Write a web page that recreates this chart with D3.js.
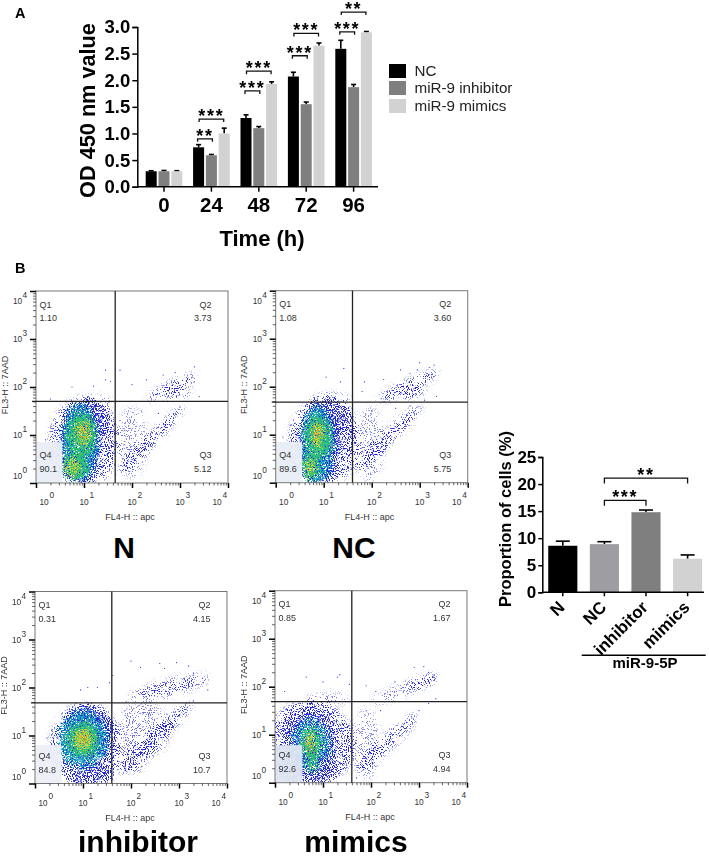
<!DOCTYPE html>
<html><head><meta charset="utf-8">
<script src="https://cdn.jsdelivr.net/npm/d3@7"></script>
<style>html,body{margin:0;padding:0;background:#fff}svg{display:block}text{font-family:"Liberation Sans",Arial,sans-serif}</style>
</head><body><div id="c"></div>
<script>
// ---------- Panel A data
const timeLabels = ["0","24","48","72","96"];
const seriesNames = ["NC","miR-9 inhibitor","miR-9 mimics"];
const seriesColors = ["#000000","#7f7f7f","#d2d2d2"];
const ncValues = [0.29,0.74,1.29,2.07,2.59];
const ncErrors = [0.01,0.05,0.06,0.08,0.16];
const inhibitorValues = [0.29,0.59,1.10,1.55,1.87];
const inhibitorErrors = [0.015,0.015,0.03,0.04,0.05];
const mimicsValues = [0.29,1.00,1.93,2.65,2.90];
const mimicsErrors = [0.01,0.10,0.04,0.05,0.015];
// [time, from series, to series, bracket value, stars]
const brackets = [
 ["24",0,1,0.90,"**"],["24",0,2,1.27,"***"],
 ["48",0,1,1.80,"***"],["48",0,2,2.17,"***"],
 ["72",0,1,2.46,"***"],["72",0,2,2.88,"***"],
 ["96",0,1,2.91,"***"],["96",0,2,3.28,"**"]];
// ---------- Panel C data
const groupLabels = ["N","NC","inhibitor","mimics"];
const groupValues = [8.6,8.9,14.8,6.2];
const groupErrors = [0.85,0.45,0.4,0.7];
const groupColors = ["#000000","#9d9da2","#7f7f7f","#d2d2d2"];
const groupBrackets = [["NC","mimics",21.1,"**"],["NC","inhibitor",17.0,"***"]];
// ---------- Flow panels (gate and quadrant values)
const flowNames = ["N","NC","inhibitor","mimics"];
const q1 = ["1.10","1.08","0.31","0.85"];
const q2 = ["3.73","3.60","4.15","1.67"];
const q3 = ["5.12","5.75","10.7","4.94"];
const q4 = ["90.1","89.6","84.8","92.6"];
// Density regions in decades: [log x, log y, rx, ry, rotation, event density 0..1]
const densityN = [[1.0,0.85,0.72,0.92,0,.34],[0.92,0.85,0.42,0.84,0,.62],[1.22,1.3,0.35,0.42,0,.4],[1.2,1.72,0.36,0.1,0,.24],
 [2.85,2.0,0.58,0.12,25,.33],[3.0,1.85,0.25,0.05,12,.5],[2.4,0.9,0.98,0.12,46,.33],[2.0,0.85,0.32,0.75,0,.16]];
const densityNC = [[1.0,0.85,0.72,0.92,0,.34],[0.9,0.8,0.42,0.85,0,.62],[1.2,1.3,0.4,0.42,0,.4],[1.15,1.75,0.4,0.12,0,.24],
 [2.75,2.0,0.72,0.13,25,.32],[2.85,1.85,0.28,0.05,14,.5],[2.35,0.95,0.95,0.14,44,.32],[1.95,0.8,0.32,0.78,0,.16]];
const densityInhibitor = [[1.05,0.8,0.72,0.85,0,.42],[1.1,1.05,0.5,0.58,0,.55],[1.2,0.2,0.45,0.28,0,.36],
 [2.8,2.0,0.85,0.17,14,.28],[2.25,1.1,0.55,0.6,0,.18],[2.5,0.95,1.05,0.15,44,.33],[2.0,0.45,0.3,0.22,0,.28]];
const densityMimics = [[0.72,0.8,0.92,0.88,0,.4],[0.7,0.95,0.55,0.55,0,.42],[0.85,0.4,0.42,0.42,0,.42],[1.1,1.75,0.45,0.12,0,.2],
 [2.7,1.95,0.75,0.14,22,.2],[3.1,2.1,0.3,0.1,20,.28],[2.35,0.85,0.85,0.16,43,.28],[1.9,0.8,0.3,0.75,0,.16]];
// Colour cores: [log x, log y, rx, ry, rotation, colour index, density]
const coresN = [[0.92,0.85,0.38,0.82,0,0,.72],[0.82,0.35,0.27,0.3,0,1,.85],[0.95,1.0,0.33,0.46,0,1,.8],[0.77,0.34,0.15,0.19,0,2,.65],[0.98,1.05,0.17,0.28,0,2,.65],[0.98,1.05,0.08,0.15,0,3,.55]];
const coresNC = [[0.87,0.8,0.36,0.82,0,0,.72],[0.72,0.32,0.2,0.27,0,1,.85],[0.88,0.95,0.29,0.46,0,1,.8],[0.72,0.34,0.1,0.15,0,2,.65],[0.88,1.0,0.14,0.27,0,2,.65],[0.88,1.0,0.07,0.16,0,3,.55]];
const coresInhibitor = [[1.0,0.92,0.52,0.6,0,0,.72],[1.0,0.92,0.34,0.37,0,1,.9],[1.0,0.92,0.19,0.21,0,2,.8],[1.0,0.95,0.09,0.1,0,3,.65]];
const coresMimics = [[0.75,0.82,0.42,0.55,0,0,.55],[0.75,0.85,0.24,0.32,0,1,.7],[0.78,0.5,0.14,0.3,0,1,.62],[0.72,0.9,0.12,0.15,0,2,.62],[0.75,0.72,0.05,0.12,0,3,.55]];
const coreColors = ["#16a6c0","#30c468","#d0d436","#ea9438"];
// Pale low-signal corner: [log x end, log y top, tint]
const paleCorner = [[0.55,0.85,"#e9edf6"],[0.55,0.85,"#e9edf6"],[0.55,0.8,"#eceff7"],[0.57,0.78,"#dee6f2"]];
// Individually legible outlier events: [log x, log y]
const eventsN = [[1.45,2.35],[0.75,2.0],[1.45,2.15],[1.55,2.12],[1.75,2.35],[1.2,2.02],[2.0,2.05],[2.3,2.15],[2.65,2.25],[2.9,2.3],[3.3,2.42],[3.4,1.8],[3.0,1.58],[2.9,1.45],[0.3,1.75],[1.75,1.3],[1.85,1.1],[2.2,1.5],[2.55,1.45],[0.4,1.1],[0.2,0.9]];
const eventsNC = [[1.42,2.38],[1.05,2.2],[1.35,2.1],[1.85,2.1],[2.25,2.15],[2.6,2.35],[2.8,2.28],[2.95,2.35],[3.0,2.5],[3.2,2.4],[3.3,2.45],[3.35,1.8],[3.1,1.72],[2.8,1.6],[2.5,1.55],[2.0,1.5],[0.3,1.2],[0.15,0.95],[2.2,1.75],[1.8,1.9]];
const eventsInhibitor = [[2.0,2.55],[2.2,2.42],[2.6,2.5],[2.7,2.4],[2.95,2.52],[3.2,2.45],[3.3,2.3],[3.5,2.1],[3.6,1.95],[0.95,1.95],[1.3,2.0],[1.55,2.1],[1.62,2.25],[1.9,1.7],[2.4,1.55],[3.0,1.4],[0.35,1.1],[0.25,0.95],[1.1,2.0],[3.3,1.72]];
const eventsMimics = [[0.65,2.2],[1.3,2.2],[1.35,2.25],[1.0,2.1],[0.2,1.9],[1.55,2.05],[1.9,2.02],[2.1,1.9],[2.9,2.4],[3.1,2.42],[3.2,2.3],[3.3,2.2],[3.35,1.75],[3.2,1.65],[2.5,2.1],[2.2,1.5],[1.9,1.5],[1.7,0.1],[2.85,1.35],[3.0,1.5]];

const densitySets=[densityN,densityNC,densityInhibitor,densityMimics];
const coreSets=[coresN,coresNC,coresInhibitor,coresMimics];
const eventSets=[eventsN,eventsNC,eventsInhibitor,eventsMimics];
const gateX=[1.65,1.6,1.6,1.6], gateY=[1.7,1.68,1.68,1.69];
const frames=[{l:36,t:291,lab:130,name:124,nameY:557.7},{l:275.7,t:290.7,lab:369.5,name:354,nameY:557.7},
              {l:35,t:591.5,lab:130,name:138,nameY:851.5},{l:275,t:590.7,lab:370,name:356,nameY:851.5}];
const PS=192;

const svg=d3.select("#c").append("svg").attr("width",709).attr("height",858);
const defs=svg.append("defs");
// Grain texture: blurred region alpha is thresholded against noise, so darker regions get more specks.
function stippleFilter(id,color,seed,blur){
  const f=defs.append("filter").attr("id",id).attr("filterUnits","userSpaceOnUse")
    .attr("x",0).attr("y",270).attr("width",480).attr("height",540).attr("color-interpolation-filters","sRGB");
  f.append("feGaussianBlur").attr("in","SourceAlpha").attr("stdDeviation",blur).attr("result","b");
  f.append("feTurbulence").attr("type","fractalNoise").attr("baseFrequency",.95).attr("numOctaves",2).attr("seed",seed).attr("result","n");
  f.append("feColorMatrix").attr("in","n").attr("type","matrix").attr("values","0 0 0 0 0  0 0 0 0 0  0 0 0 0 0  3.6 0 0 0 -1.3").attr("result","m");
  f.append("feComposite").attr("in","b").attr("in2","m").attr("operator","arithmetic").attr("k1",0).attr("k2",1).attr("k3",1).attr("k4",-1).attr("result","s");
  const ct=f.append("feComponentTransfer").attr("in","s").attr("result","t");
  ct.append("feFuncA").attr("type","linear").attr("slope",3.5);
  f.append("feFlood").attr("flood-color",color).attr("result","fl");
  f.append("feComposite").attr("in","fl").attr("in2","t").attr("operator","in");
}
stippleFilter("grainBase","#2026cc",3,3);
coreColors.forEach((c,i)=>stippleFilter("grain"+i,c,11+i*7,2.4));
defs.append("filter").attr("id","soft").attr("filterUnits","userSpaceOnUse").attr("x",0).attr("y",270).attr("width",480).attr("height",540)
  .append("feGaussianBlur").attr("stdDeviation",.35);

const dec=d3.range(0,5).map(i=>Math.pow(10,i));
const minors=[];dec.slice(0,4).forEach(b=>d3.range(2,10).forEach(m=>minors.push(b*m)));

flowNames.forEach((name,i)=>{
  const f=frames[i];
  const x=d3.scaleLog().domain([1,1e4]).range([f.l,f.l+PS]);
  const y=d3.scaleLog().domain([1,1e4]).range([f.t+PS,f.t]);
  const X=v=>x(Math.pow(10,v)),Y=v=>y(Math.pow(10,v));
  const g=svg.append("g");
  defs.append("clipPath").attr("id","clip"+i).append("rect").attr("x",f.l).attr("y",f.t).attr("width",PS).attr("height",PS);
  const plot=g.append("g").attr("clip-path",`url(#clip${i})`).append("g").attr("filter","url(#soft)");
  const deca=X(1)-X(0);
  const drawEll=(sel,d)=>sel.append("ellipse")
     .attr("transform",`translate(${X(d[0])},${Y(d[1])}) rotate(${-d[4]})`)
     .attr("rx",d[2]*deca).attr("ry",d[3]*deca);
  const pc=paleCorner[i];
  const base=plot.append("g").attr("filter","url(#grainBase)");
  densitySets[i].forEach(d=>drawEll(base,d).attr("fill","#000").attr("opacity",d[5]));
  coreColors.forEach((c,ci)=>{
    const lay=plot.append("g").attr("filter",`url(#grain${ci})`);
    coreSets[i].filter(d=>d[5]===ci).forEach(d=>drawEll(lay,d).attr("fill","#000").attr("opacity",d[6]));
  });
  plot.append("rect").attr("x",X(0)).attr("width",X(pc[0])-X(0)).attr("y",Y(pc[1])).attr("height",Y(0)-Y(pc[1]))
     .attr("fill",pc[2]).attr("opacity",.95);
  plot.selectAll(".ev").data(eventSets[i]).join("circle").attr("cx",d=>X(d[0])).attr("cy",d=>Y(d[1])).attr("r",.6).attr("fill","#2a32c4");

  g.append("rect").attr("x",f.l).attr("y",f.t).attr("width",PS).attr("height",PS).attr("fill","none").attr("stroke","#777").attr("stroke-width",1);
  g.append("line").attr("x1",X(gateX[i])).attr("x2",X(gateX[i])).attr("y1",f.t).attr("y2",f.t+PS).attr("stroke","#222").attr("stroke-width",1.3);
  g.append("line").attr("x1",f.l-4).attr("x2",f.l+PS).attr("y1",Y(gateY[i])).attr("y2",Y(gateY[i])).attr("stroke","#222").attr("stroke-width",1.3);

  // axes
  const styleAxis=a=>{a.select(".domain").remove();a.selectAll("text").remove();};
  g.append("g").attr("transform",`translate(0,${f.t+PS})`).call(d3.axisBottom(x).tickValues(dec).tickSize(5)).call(styleAxis).selectAll("line").attr("stroke","#000").attr("stroke-width",1.5);
  g.append("g").attr("transform",`translate(0,${f.t+PS})`).call(d3.axisBottom(x).tickValues(minors).tickSize(2.5)).call(styleAxis).selectAll("line").attr("stroke","#222").attr("stroke-width",.7);
  g.append("g").attr("transform",`translate(${f.l},0)`).call(d3.axisLeft(y).tickValues(dec).tickSize(6)).call(styleAxis).selectAll("line").attr("stroke","#000").attr("stroke-width",1.5);
  g.append("g").attr("transform",`translate(${f.l},0)`).call(d3.axisLeft(y).tickValues(minors).tickSize(3)).call(styleAxis).selectAll("line").attr("stroke","#222").attr("stroke-width",.7);

  const txt=(px,py,t,opt={})=>g.append("text").attr("x",px).attr("y",py).text(t)
     .attr("font-size",opt.fs||9).attr("fill",opt.c||"#333").attr("text-anchor",opt.a||"start");
  const xOff=[8,0,0,0,-11], yOff=[-4,3,3,3,13];
  dec.forEach((v,k)=>{
    const tx=x(v)+xOff[k];
    txt(tx,f.t+PS+22,"10",{a:"middle",fs:8.3});
    txt(tx+5.5,f.t+PS+15,String(k),{fs:8.3});
    const ty=y(v)+yOff[k];
    txt(f.l-23,ty,"10",{fs:8.3});
    txt(f.l-13.5,ty-6,String(k),{fs:8.3});
  });
  txt(f.lab,f.t+PS+37,"FL4-H :: apc",{a:"middle",fs:9});
  g.append("text").attr("transform",`translate(${f.l-28.5},${f.t+94}) rotate(-90)`).attr("text-anchor","middle")
    .attr("font-size",9).attr("fill","#333").text("FL3-H :: 7AAD");
  txt(f.l+3.5,f.t+16.5,"Q1");txt(f.l+3.5,f.t+30,q1[i]);
  txt(f.l+PS-16.5,f.t+16.5,"Q2",{a:"end"});txt(f.l+PS-16.5,f.t+30,q2[i],{a:"end"});
  txt(f.l+PS-16.5,f.t+PS-25,"Q3",{a:"end"});txt(f.l+PS-16.5,f.t+PS-11,q3[i],{a:"end"});
  txt(f.l+3.5,f.t+PS-25,"Q4");txt(f.l+3.5,f.t+PS-11,q4[i]);
  g.append("text").attr("x",f.name).attr("y",f.nameY).attr("text-anchor","middle").attr("font-size",30).attr("font-weight","bold").attr("fill","#000").text(name);
});

// ---------- Panel A
svg.append("text").attr("x",15).attr("y",18).attr("font-size",14.5).attr("font-weight","bold").text("A");
svg.append("text").attr("x",15).attr("y",273).attr("font-size",14.5).attr("font-weight","bold").text("B");
const gA=svg.append("g");
const x0=d3.scaleBand().domain(timeLabels).range([140.3,377.3]);
const x1=d3.scaleBand().domain(d3.range(3)).range([x0.bandwidth()/2-19.2,x0.bandwidth()/2+19.2]).paddingInner(.14).paddingOuter(.07);
const yA=d3.scaleLinear().domain([0,3]).range([186.7,27]);
const vals=[ncValues,inhibitorValues,mimicsValues],errs=[ncErrors,inhibitorErrors,mimicsErrors];
vals.forEach((vs,s)=>{
  vs.forEach((v,k)=>{
    const cx=x0(timeLabels[k])+x1(s)+x1.bandwidth()/2;
    gA.append("line").attr("x1",cx).attr("x2",cx).attr("y1",yA(v)).attr("y2",yA(v+errs[s][k])).attr("stroke","#000").attr("stroke-width",1.6);
    gA.append("line").attr("x1",cx-2.5).attr("x2",cx+2.5).attr("y1",yA(v+errs[s][k])).attr("y2",yA(v+errs[s][k])).attr("stroke","#000").attr("stroke-width",1.6);
    gA.append("rect").attr("x",x0(timeLabels[k])+x1(s)).attr("width",x1.bandwidth()).attr("y",yA(v)).attr("height",yA(0)-yA(v)).attr("fill",seriesColors[s]);
  });
});
const axA=gA.append("g").attr("transform","translate(137.3,0)").call(d3.axisLeft(yA).tickValues(d3.range(0,3.01,.5)).tickFormat(d3.format(".1f")).tickSize(5).tickPadding(2));
axA.select(".domain").attr("stroke-width",1.5);
axA.selectAll("line").attr("stroke-width",1.5);
axA.selectAll("text").attr("font-size",18.5).attr("font-weight","bold").attr("fill","#000").attr("font-family","Liberation Sans");
const axAx=gA.append("g").attr("transform","translate(0,186.7)").call(d3.axisBottom(x0).tickSize(5).tickPadding(6));
axAx.select(".domain").attr("d","M137.3,0H378").attr("stroke-width",1.5);
axAx.selectAll("line").attr("stroke-width",1.5);
axAx.selectAll("text").attr("font-size",20.5).attr("font-weight","bold").attr("fill","#000").attr("font-family","Liberation Sans");
gA.append("text").attr("transform","translate(95,110.5) rotate(-90)").attr("text-anchor","middle").attr("font-size",21.7).attr("font-weight","bold").text("OD 450 nm value");
gA.append("text").attr("x",262).attr("y",246).attr("text-anchor","middle").attr("font-size",22).attr("font-weight","bold").text("Time (h)");
brackets.forEach(b=>{
  const a=x0(b[0])+x1(b[1])+x1.bandwidth()/2-(b[2]===1?1:-0.5), e=x0(b[0])+x1(b[2])+x1.bandwidth()/2-(b[2]===1?-1:0.5);
  const by=yA(b[3]);
  gA.append("path").attr("d",d3.line()([[a,by+3],[a,by],[e,by],[e,by+3]])).attr("fill","none").attr("stroke","#111").attr("stroke-width",1.3);
  gA.append("text").attr("x",(a+e)/2).attr("y",by+3).attr("text-anchor","middle").attr("font-size",18).attr("font-weight","bold").attr("letter-spacing",1.7).text(b[4]);
});
seriesNames.forEach((n,i)=>{
  const ly=[64,81,99][i];
  gA.append("rect").attr("x",389).attr("y",ly).attr("width",17).attr("height",14).attr("fill",seriesColors[i]);
  gA.append("text").attr("x",414.5).attr("y",[76,93.3,111][i]).attr("font-size",15.2).attr("fill","#222").text(n);
});

// ---------- Panel C
const gC=svg.append("g");
const xC=d3.scaleBand().domain(groupLabels).range([542,708.4]).paddingInner(.3).paddingOuter(.15);
const yC=d3.scaleLinear().domain([0,25]).range([592.3,457]);
groupLabels.forEach((l,i)=>{
  const cx=xC(l)+xC.bandwidth()/2, top=yC(groupValues[i]+groupErrors[i]);
  gC.append("line").attr("x1",cx).attr("x2",cx).attr("y1",yC(groupValues[i])).attr("y2",top).attr("stroke","#000").attr("stroke-width",1.6);
  gC.append("line").attr("x1",cx-7).attr("x2",cx+7).attr("y1",top).attr("y2",top).attr("stroke","#000").attr("stroke-width",1.6);
  gC.append("rect").attr("x",xC(l)).attr("width",xC.bandwidth()).attr("y",yC(groupValues[i])).attr("height",yC(0)-yC(groupValues[i])).attr("fill",groupColors[i]);
});
const axC=gC.append("g").attr("transform","translate(542.3,0)").call(d3.axisLeft(yC).tickValues(d3.range(0,26,5)).tickSize(4).tickPadding(2));
axC.select(".domain").attr("stroke-width",1.5);axC.selectAll("line").attr("stroke-width",1.5);
axC.selectAll("text").attr("font-size",17).attr("font-weight","bold").attr("fill","#000").attr("font-family","Liberation Sans");
const axCx=gC.append("g").attr("transform","translate(0,592.3)").call(d3.axisBottom(xC).tickSize(4));
axCx.select(".domain").attr("d","M542.3,0H704").attr("stroke-width",1.5);axCx.selectAll("line").attr("stroke-width",1.5);
axCx.selectAll("text").attr("font-size",17).attr("font-weight","bold").attr("fill","#000").attr("font-family","Liberation Sans")
  .attr("text-anchor","end").attr("y",0).attr("dy",0).attr("transform","translate(3,16) rotate(-45)");
gC.append("text").attr("transform","translate(511,519) rotate(-90)").attr("text-anchor","middle").attr("font-size",16.5).attr("font-weight","bold").text("Proportion of cells (%)");
groupBrackets.forEach(b=>{
  const a=xC(b[0])+xC.bandwidth()/2,e=xC(b[1])+xC.bandwidth()/2,by=yC(b[2]);
  gC.append("path").attr("d",d3.line()([[a,by+5.5],[a,by],[e,by],[e,by+5.5]])).attr("fill","none").attr("stroke","#111").attr("stroke-width",1.3);
  gC.append("text").attr("x",(a+e)/2).attr("y",by+3).attr("text-anchor","middle").attr("font-size",18).attr("font-weight","bold").attr("letter-spacing",1.7).text(b[3]);
});
gC.append("line").attr("x1",581.7).attr("x2",705.7).attr("y1",655.3).attr("y2",655.3).attr("stroke","#000").attr("stroke-width",1.5);
gC.append("text").attr("x",645).attr("y",668).attr("text-anchor","middle").attr("font-size",15).attr("font-weight","bold").text("miR-9-5P");
</script></body></html>
